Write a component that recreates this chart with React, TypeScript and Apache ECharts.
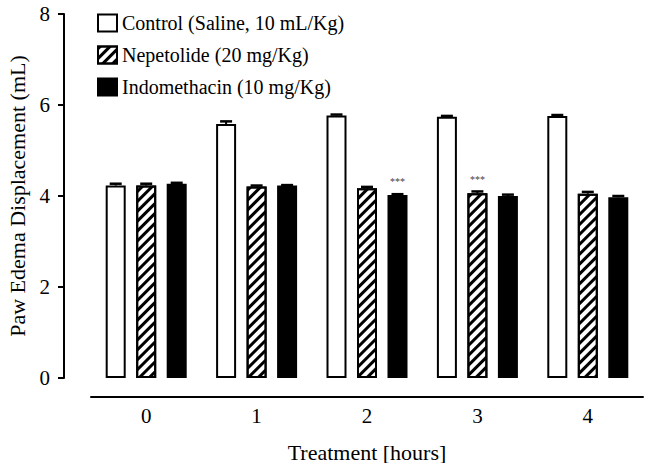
import React, { useEffect, useRef } from "react";
import * as echarts from "echarts";

const categories = ["0", "1", "2", "3", "4"];
const seriesNames = [
  "Control (Saline, 10 mL/Kg)",
  "Nepetolide (20 mg/Kg)",
  "Indomethacin (10 mg/Kg)",
];
const control = [4.23, 5.58, 5.77, 5.74, 5.76];
const nepetolide = [4.23, 4.21, 4.17, 4.06, 4.05];
const indomethacin = [4.27, 4.23, 4.02, 4.0, 3.97];
const controlErr = [0.04, 0.06, 0.02, 0.02, 0.02];
const nepetolideErr = [0.04, 0.02, 0.03, 0.04, 0.04];
const indomethacinErr = [0.02, 0.01, 0.02, 0.03, 0.03];
// significance marks: [seriesIndex, categoryIndex]
const significance: [number, number][] = [
  [2, 2],
  [1, 3],
];

const FONT = "'Liberation Serif', 'Times New Roman', serif";
const BAR_W = 20;
const BAR_GAP = 10.5;

export default function App() {
  const ref = useRef<HTMLDivElement>(null);
  useEffect(() => {
    if (!ref.current) return;
    document.body.style.margin = "0";
    const chart = echarts.init(ref.current, undefined, { renderer: "svg" });
    const values = [control, nepetolide, indomethacin];
    const errs = [controlErr, nepetolideErr, indomethacinErr];

    const mkData = (si: number) =>
      values[si].map((v, ci) => {
        const sig = significance.some(([s, c]) => s === si && c === ci);
        return sig
          ? {
              value: v,
              label: {
                show: true,
                position: "top",
                distance: 9,
                formatter: "***",
                fontSize: 10,
                color: "#444",
                fontFamily: FONT,
              },
            }
          : v;
      });

    const errData: number[][] = [];
    values.forEach((arr, si) =>
      arr.forEach((v, ci) => errData.push([ci, v, errs[si][ci], si]))
    );

    const styles = [
      { color: "#fff", borderColor: "#000", borderWidth: 2 },
      {
        color: "#fff",
        borderColor: "#000",
        borderWidth: 2,
        decal: {
          symbol: "rect",
          symbolSize: 1,
          color: "#000",
          backgroundColor: "#fff",
          dashArrayX: [[1, 0]],
          dashArrayY: [2.5, 4],
          rotation: -Math.PI / 4,
        },
      },
      { color: "#000", borderColor: "#000", borderWidth: 2 },
    ];

    chart.setOption({
      animation: false,
      aria: { enabled: false },
      textStyle: { fontFamily: FONT, color: "#000" },
      grid: {
        left: 91,
        right: 3,
        top: 14,
        bottom: 85,
        containLabel: false,
        outerBoundsMode: "none",
      },
      legend: {
        orient: "vertical",
        left: 92,
        top: 8,
        itemWidth: 19,
        itemHeight: 17,
        itemGap: 12,
        textStyle: { fontSize: 20, fontFamily: FONT, color: "#000" },
        data: seriesNames.map((n) => ({ name: n, icon: "rect" })),
      },
      xAxis: {
        type: "category",
        data: categories,
        offset: 19,
        name: "Treatment [hours]",
        nameLocation: "middle",
        nameGap: 44,
        nameTextStyle: { fontSize: 22, fontFamily: FONT, color: "#000" },
        axisLine: { onZero: false, lineStyle: { color: "#000", width: 2 } },
        axisTick: {
          alignWithLabel: true,
          length: 6,
          lineStyle: { color: "#000", width: 2 },
        },
        axisLabel: { fontSize: 21, fontFamily: FONT, color: "#000", margin: 8 },
      },
      yAxis: {
        type: "value",
        min: 0,
        max: 8,
        interval: 2,
        offset: 27,
        name: "Paw Edema Displacement (mL)",
        nameLocation: "middle",
        nameGap: 34,
        nameTextStyle: { fontSize: 22, fontFamily: FONT, color: "#000" },
        axisLine: { show: true, lineStyle: { color: "#000", width: 2 } },
        axisTick: { show: true, length: 6, lineStyle: { color: "#000", width: 2 } },
        axisLabel: { fontSize: 21, fontFamily: FONT, color: "#000", margin: 14 },
        splitLine: { show: false },
      },
      series: [
        ...seriesNames.map((name, si) => ({
          name,
          type: "bar",
          barWidth: BAR_W,
          barGap: (BAR_GAP / BAR_W) * 100 + "%",
          data: mkData(si),
          itemStyle: styles[si],
          z: 2,
        })),
        {
          type: "custom",
          z: 3,
          silent: true,
          data: errData,
          renderItem: (params: any, api: any) => {
            const ci = api.value(0);
            const mean = api.value(1);
            const err = api.value(2);
            const si = api.value(3);
            const top = api.coord([ci, mean + err]);
            const base = api.coord([ci, mean]);
            const x = top[0] + (si - 1) * (BAR_W + BAR_GAP);
            return {
              type: "group",
              children: [
                {
                  type: "line",
                  shape: { x1: x, y1: base[1], x2: x, y2: top[1] },
                  style: { stroke: "#000", lineWidth: 2 },
                },
                {
                  type: "line",
                  shape: { x1: x - 6, y1: top[1], x2: x + 6, y2: top[1] },
                  style: { stroke: "#000", lineWidth: 2.5 },
                },
              ],
            };
          },
        },
      ],
    });
    return () => chart.dispose();
  }, []);
  return <div ref={ref} style={{ width: 646, height: 463 }} />;
}
